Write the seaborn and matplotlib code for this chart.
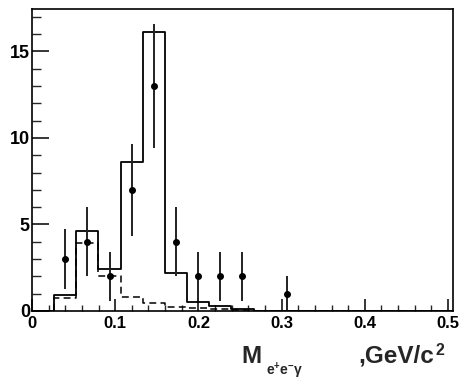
import numpy as np
import pandas as pd
import matplotlib
matplotlib.use("Agg")
import matplotlib.pyplot as plt
import seaborn as sns
from matplotlib.ticker import MultipleLocator, FuncFormatter

# histogram contents, 19 bins of width 0.0266 from 0 to 0.506
bin_edges = list(np.linspace(0, 0.506, 20))
mc_total = [0, 0.92, 4.62, 2.43, 8.6, 16.1, 2.2, 0.54, 0.29, 0.1,
            0, 0, 0, 0, 0, 0, 0, 0, 0]
mc_background = [0, 0.75, 3.95, 2.0, 0.79, 0.46, 0.25, 0.18, 0.12, 0.06,
                 0.02, 0, 0, 0, 0, 0, 0, 0, 0]

# data points: bin index, counts, errors
data_bins = [1, 2, 3, 4, 5, 6, 7, 8, 9, 11]
data_counts = [3, 4, 2, 7, 13, 4, 2, 2, 2, 1]
data_errors = [1.73, 2.0, 1.41, 2.65, 3.61, 2.0, 1.41, 1.41, 1.41, 1.0]

sns.set_style("ticks")
plt.rcParams["font.family"] = ["Liberation Sans", "DejaVu Sans"]
plt.rcParams["font.weight"] = "bold"
plt.rcParams["mathtext.fontset"] = "custom"
plt.rcParams["mathtext.rm"] = "Liberation Sans:bold"
plt.rcParams["mathtext.bf"] = "Liberation Sans:bold"
plt.rcParams["mathtext.it"] = "Liberation Sans"

edges = np.array(bin_edges)
centers = 0.5 * (edges[:-1] + edges[1:])
hist_df = pd.DataFrame({"mass": centers, "total": mc_total, "bkg": mc_background})

fig = plt.figure(figsize=(4.59, 3.82), dpi=100)
ax = fig.add_axes([0.0697, 0.1859, 0.9172, 0.7905])

sns.histplot(data=hist_df, x="mass", weights="total", bins=bin_edges, element="step",
             fill=False, color="black", linewidth=1.3, ax=ax)
sns.histplot(data=hist_df, x="mass", weights="bkg", bins=bin_edges, element="step",
             fill=False, color="black", linewidth=1.1, linestyle=(0, (4.5, 2.8)), ax=ax)

xs = centers[data_bins]
ax.errorbar(xs, data_counts, yerr=data_errors, fmt="o", color="black",
            ecolor="#222222", elinewidth=1.4, markersize=4, capsize=0)

ax.set_xlim(0, 0.506)
ax.set_ylim(0, 17.45)
ax.set_ylabel("")
ax.set_xlabel("")

ax.xaxis.set_major_locator(MultipleLocator(0.1))
ax.xaxis.set_minor_locator(MultipleLocator(0.02))
ax.yaxis.set_major_locator(MultipleLocator(5))
ax.yaxis.set_minor_locator(MultipleLocator(1))
ax.xaxis.set_major_formatter(FuncFormatter(
    lambda v, p: "0" if abs(v) < 1e-9 else f"{v:.1f}"))

ax.tick_params(axis="x", which="major", direction="in", length=8.5, width=1.1,
               labelsize=12, pad=3.5, colors="black")
ax.tick_params(axis="x", which="minor", direction="in", length=4.5, width=1.0)
ax.tick_params(axis="y", which="major", direction="in", length=12.5, width=1.1,
               labelsize=13, pad=1.5, colors="black")
ax.tick_params(axis="y", which="minor", direction="in", length=6.5, width=1.0)
for lab in ax.get_xticklabels() + ax.get_yticklabels():
    lab.set_fontweight("bold")

for s in ax.spines.values():
    s.set_visible(True)
    s.set_linewidth(1.2)
    s.set_color("black")

# axis title pieces
fig.text(241 / 459, 1 - 363 / 382, "M", fontsize=17.5, fontweight="bold",
         ha="left", va="baseline")
fig.text(266 / 459, 1 - 375 / 382, r"e$^{+}$e$^{-}$$\gamma$", fontsize=10,
         fontweight="bold", ha="left", va="baseline")
unit = fig.text(358 / 459, 1 - 363 / 382, ",GeV/c", fontsize=17.5,
                fontweight="bold", ha="left", va="baseline")
ax.annotate("2", xy=(1.0, 0.0), xycoords=unit, xytext=(1.0, 9.5),
            textcoords="offset points", fontsize=11.5, fontweight="bold",
            ha="left", va="baseline", annotation_clip=False)

fig.savefig("out.png", dpi=100)
